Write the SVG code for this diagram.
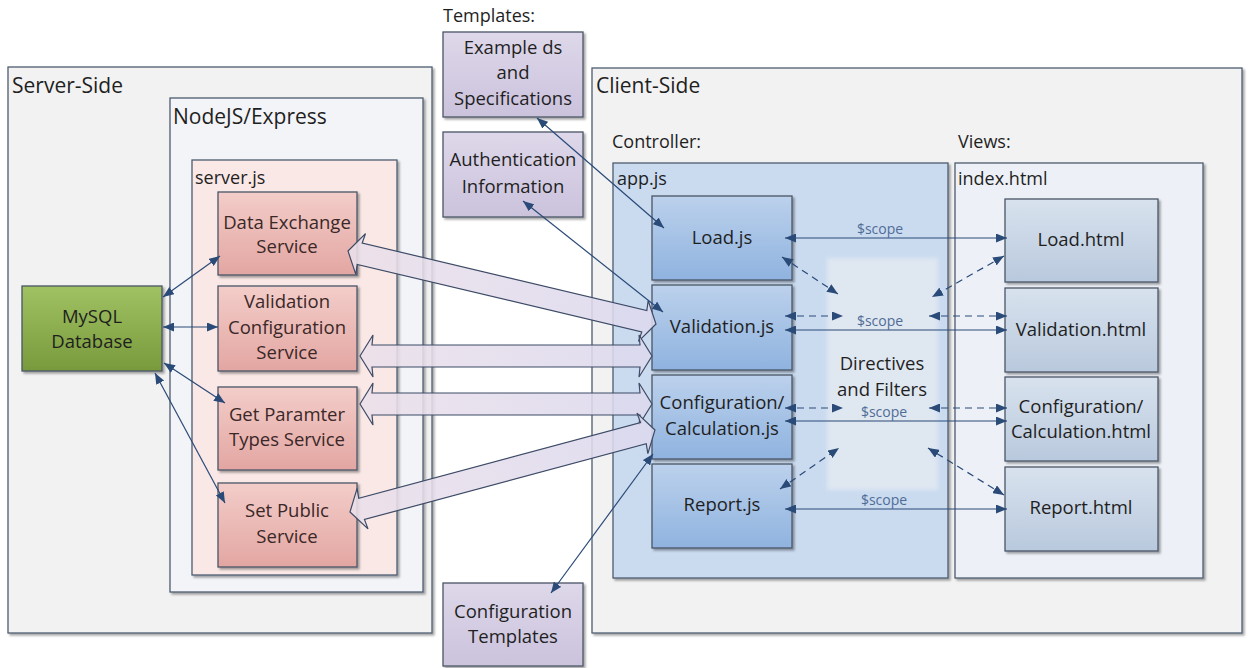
<svg xmlns="http://www.w3.org/2000/svg" width="1252" height="668" viewBox="0 0 1252 668">
  <defs>
    <linearGradient id="gService" x1="0" y1="0" x2="0" y2="1">
      <stop offset="0" stop-color="#f3cdc9"/>
      <stop offset="1" stop-color="#e3a6a2"/>
    </linearGradient>
    <linearGradient id="gDb" x1="0" y1="0" x2="0" y2="1">
      <stop offset="0" stop-color="#a0c263"/>
      <stop offset="1" stop-color="#789a3c"/>
    </linearGradient>
    <linearGradient id="gTpl" x1="0" y1="0" x2="0" y2="1">
      <stop offset="0" stop-color="#ded8ea"/>
      <stop offset="1" stop-color="#cbc2dc"/>
    </linearGradient>
    <linearGradient id="gJs" x1="0" y1="0" x2="0" y2="1">
      <stop offset="0" stop-color="#bcd1ec"/>
      <stop offset="1" stop-color="#8fb3df"/>
    </linearGradient>
    <linearGradient id="gHtml" x1="0" y1="0" x2="0" y2="1">
      <stop offset="0" stop-color="#d8e2ee"/>
      <stop offset="1" stop-color="#b9c9dd"/>
    </linearGradient>
    <linearGradient id="gBig" x1="0" y1="0" x2="1" y2="0">
      <stop offset="0" stop-color="#ebe0ea"/>
      <stop offset="1" stop-color="#dcd9ee"/>
    </linearGradient>
    <filter id="shadow" x="-10%" y="-10%" width="120%" height="120%">
      <feDropShadow dx="2" dy="2" stdDeviation="1" flood-color="#000" flood-opacity="0.35"/>
    </filter>
    <filter id="soft" x="-10%" y="-10%" width="120%" height="120%">
      <feGaussianBlur stdDeviation="2"/>
    </filter>
    <marker id="ah" markerUnits="userSpaceOnUse" markerWidth="12" markerHeight="9" refX="11" refY="4.5" orient="auto-start-reverse">
      <path d="M0,0 L11,4.5 L0,9 z" fill="#2a4a78"/>
    </marker>
    <style>
      .frame { stroke: #4d5d70; stroke-width: 1.3; filter: url(#shadow); }
      .node { stroke: #4a5566; stroke-width: 1.3; filter: url(#shadow); }
      .t { font-family: "Open Sans", "Liberation Sans", sans-serif; fill: #1f1f1f; }
      .lbl { font-size: 21px; }
      .sub { font-size: 18px; }
      .nt { font-size: 18.5px; text-anchor: middle; }
      .svc { fill: #3a2828; }
      .scope { font-family: "Open Sans", "Liberation Sans", sans-serif; font-size: 14px; fill: #4f6c96; text-anchor: middle; }
      .link { stroke: #2a4a78; stroke-width: 1.2; fill: none; marker-start: url(#ah); marker-end: url(#ah); }
      .dash { stroke-dasharray: 7 5; }
      .big { fill: url(#gBig); fill-opacity: 0.88; stroke: #3d4b66; stroke-width: 1.2; }
    </style>
  </defs>

  <rect width="1252" height="668" fill="#ffffff"/>

  <!-- server side containers -->
  <g id="server-side">
    <rect class="frame" x="8" y="67" width="424" height="566" fill="#f2f2f2"/>
    <text class="t lbl" x="12" y="93">Server-Side</text>
  </g>
  <g id="nodejs-express">
    <rect class="frame" x="170" y="98" width="253" height="494" fill="#f3f4f7"/>
    <text class="t lbl" x="173" y="124">NodeJS/Express</text>
  </g>
  <g id="server-js">
    <rect class="frame" x="192" y="160" width="205" height="415" fill="#f9e8e6"/>
    <text class="t sub" x="195" y="184">server.js</text>
  </g>

  <!-- client side containers -->
  <g id="client-side">
    <rect class="frame" x="592" y="68" width="650" height="565" fill="#f2f2f2"/>
    <text class="t lbl" x="596" y="93">Client-Side</text>
    <text class="t sub" x="612" y="148">Controller:</text>
    <text class="t sub" x="958" y="148">Views:</text>
  </g>
  <g id="app-js">
    <rect class="frame" x="613" y="163" width="335" height="415" fill="#cadbf0"/>
    <text class="t sub" x="617" y="185">app.js</text>
  </g>
  <g id="index-html">
    <rect class="frame" x="955" y="163" width="248" height="415" fill="#edf1f7"/>
    <text class="t sub" x="958" y="185">index.html</text>
  </g>

  <!-- templates -->
  <text class="t sub" x="443" y="22">Templates:</text>
  <g id="tpl-examples">
    <rect class="node" x="443" y="32" width="140" height="85" fill="url(#gTpl)"/>
    <text class="t nt" x="513" y="54">Example ds</text>
    <text class="t nt" x="513" y="79">and</text>
    <text class="t nt" x="513" y="105">Specifications</text>
  </g>
  <g id="tpl-auth">
    <rect class="node" x="443" y="132" width="140" height="85" fill="url(#gTpl)"/>
    <text class="t nt" x="513" y="166">Authentication</text>
    <text class="t nt" x="513" y="193">Information</text>
  </g>
  <g id="tpl-config">
    <rect class="node" x="443" y="583" width="140" height="83" fill="url(#gTpl)"/>
    <text class="t nt" x="513" y="618">Configuration</text>
    <text class="t nt" x="513" y="643">Templates</text>
  </g>

  <!-- database -->
  <g id="mysql">
    <rect class="node" x="22" y="286" width="140" height="85" fill="url(#gDb)"/>
    <text class="t nt" x="92" y="323">MySQL</text>
    <text class="t nt" x="92" y="348">Database</text>
  </g>

  <!-- services -->
  <g id="svc-data-exchange">
    <rect class="node" x="218" y="192" width="139" height="83" fill="url(#gService)"/>
    <text class="t nt svc" x="287" y="229">Data Exchange</text>
    <text class="t nt svc" x="287" y="253">Service</text>
  </g>
  <g id="svc-validation">
    <rect class="node" x="218" y="286" width="139" height="85" fill="url(#gService)"/>
    <text class="t nt svc" x="287" y="308">Validation</text>
    <text class="t nt svc" x="287" y="334">Configuration</text>
    <text class="t nt svc" x="287" y="359">Service</text>
  </g>
  <g id="svc-param-types">
    <rect class="node" x="218" y="387" width="139" height="83" fill="url(#gService)"/>
    <text class="t nt svc" x="287" y="421">Get Paramter</text>
    <text class="t nt svc" x="287" y="446">Types Service</text>
  </g>
  <g id="svc-set-public">
    <rect class="node" x="218" y="483" width="139" height="84" fill="url(#gService)"/>
    <text class="t nt svc" x="287" y="517">Set Public</text>
    <text class="t nt svc" x="287" y="543">Service</text>
  </g>

  <!-- controllers -->
  <g id="load-js">
    <rect class="node" x="652" y="196" width="140" height="84" fill="url(#gJs)"/>
    <text class="t nt" x="722" y="244">Load.js</text>
  </g>
  <g id="validation-js">
    <rect class="node" x="652" y="285" width="140" height="85" fill="url(#gJs)"/>
    <text class="t nt" x="722" y="333">Validation.js</text>
  </g>
  <g id="calculation-js">
    <rect class="node" x="652" y="375" width="140" height="84" fill="url(#gJs)"/>
    <text class="t nt" x="722" y="409">Configuration/</text>
    <text class="t nt" x="722" y="435">Calculation.js</text>
  </g>
  <g id="report-js">
    <rect class="node" x="652" y="464" width="140" height="84" fill="url(#gJs)"/>
    <text class="t nt" x="722" y="511">Report.js</text>
  </g>

  <!-- directives panel -->
  <g id="directives">
    <rect x="827" y="258" width="111" height="232" fill="#e6ebf2" opacity="0.75" filter="url(#soft)"/>
    <text class="t nt" x="882" y="370">Directives</text>
    <text class="t nt" x="882" y="396">and Filters</text>
  </g>

  <!-- views -->
  <g id="load-html">
    <rect class="node" x="1005" y="199" width="153" height="83" fill="url(#gHtml)"/>
    <text class="t nt" x="1081" y="246">Load.html</text>
  </g>
  <g id="validation-html">
    <rect class="node" x="1005" y="288" width="153" height="84" fill="url(#gHtml)"/>
    <text class="t nt" x="1081" y="336">Validation.html</text>
  </g>
  <g id="calculation-html">
    <rect class="node" x="1005" y="377" width="153" height="84" fill="url(#gHtml)"/>
    <text class="t nt" x="1081" y="413">Configuration/</text>
    <text class="t nt" x="1081" y="438">Calculation.html</text>
  </g>
  <g id="report-html">
    <rect class="node" x="1005" y="467" width="153" height="84" fill="url(#gHtml)"/>
    <text class="t nt" x="1081" y="514">Report.html</text>
  </g>

  <!-- connectors -->
  <g id="connectors">
    <!-- service calls between controllers and server -->
    <polygon class="big" transform="translate(348,251) rotate(13.33)" points="0,0 13,-21 12,-11 304.5,-11 303.5,-21 316.5,0 303.5,21 304.5,11 12,11 13,21"/>
    <polygon class="big" transform="translate(360,356)" points="0,0 13,-21 12,-11 280,-11 279,-21 292,0 279,21 280,11 12,11 13,21"/>
    <polygon class="big" transform="translate(360,404)" points="0,0 13,-21 12,-11 280,-11 279,-21 292,0 279,21 280,11 12,11 13,21"/>
    <polygon class="big" transform="translate(350,512) rotate(-15.05)" points="0,0 13,-21 12,-11 303.8,-11 302.8,-21 315.8,0 302.8,21 303.8,11 12,11 13,21"/>

    <!-- database access -->
    <line class="link" x1="163" y1="297" x2="220" y2="256"/>
    <line class="link" x1="163" y1="327" x2="218" y2="327"/>
    <line class="link" x1="164" y1="363" x2="225" y2="403"/>
    <line class="link" x1="155" y1="373" x2="225" y2="503"/>

    <!-- template loading -->
    <line class="link" x1="537" y1="118" x2="664" y2="228"/>
    <line class="link" x1="523" y1="201" x2="663" y2="312"/>
    <line class="link" x1="551" y1="593" x2="653" y2="454"/>

    <!-- scope bindings -->
    <line class="link" x1="785" y1="238" x2="1007" y2="238"/>
    <line class="link" x1="785" y1="330" x2="1007" y2="330"/>
    <line class="link" x1="785" y1="421" x2="1007" y2="421"/>
    <line class="link" x1="785" y1="509" x2="1007" y2="509"/>

    <!-- directive usage -->
    <line class="link dash" x1="782" y1="257" x2="838" y2="294"/>
    <line class="link dash" x1="1004" y1="256" x2="932" y2="297"/>
    <line class="link dash" x1="785" y1="316" x2="843" y2="316"/>
    <line class="link dash" x1="929" y1="316" x2="1007" y2="316"/>
    <line class="link dash" x1="785" y1="408" x2="843" y2="408"/>
    <line class="link dash" x1="929" y1="408" x2="1007" y2="408"/>
    <line class="link dash" x1="780" y1="489" x2="839" y2="448"/>
    <line class="link dash" x1="1004" y1="495" x2="928" y2="448"/>

    <text class="scope" x="880" y="234">$scope</text>
    <text class="scope" x="880" y="326">$scope</text>
    <text class="scope" x="884" y="417">$scope</text>
    <text class="scope" x="884" y="505">$scope</text>
  </g>
</svg>
